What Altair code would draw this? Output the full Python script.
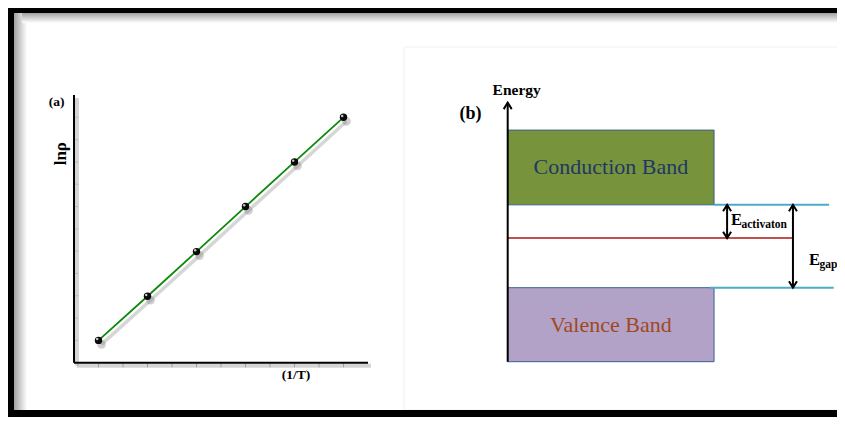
import altair as alt
import pandas as pd

# ---------------- data: panel (a)  ln(rho) versus 1/T ----------------
inv_T = [1, 2, 3, 4, 5, 6]
ln_rho = [1.0, 1.99, 2.99, 4.0, 5.0, 6.0]
a_ticks = [1, 1.5, 2, 2.5, 3, 3.5, 4, 4.5, 5, 5.5, 6]
a_min, a_max = 0.5, 6.5

# ---------------- data: panel (b)  band diagram (energy, arb. units) ----------------
band_names = ["Conduction Band", "Valence Band"]
band_low = [2.12, 0.0]
band_high = [3.13, 1.0]
band_fill = ["#77933C", "#B3A2C7"]
band_text = ["#1F3864", "#A0481E"]
level_energy = 1.67       # activation (impurity) level
energy_top = 3.5          # top of the energy arrow

# schematic horizontal layout of panel (b), in 0..1 units
BAND_R = 0.633
CB_EDGE = (0.633, 0.986)
VB_EDGE = (0.62, 1.0)
LEVEL_R = 0.872
ACT_X = 0.673
GAP_X = 0.875

W, H = 829, 409
SERIF = "Liberation Serif"

ax = alt.Scale(domain=[a_min, a_max], range=[66, 360], nice=False, zero=False)
ay = alt.Scale(domain=[a_min, a_max], range=[354.7, 87], nice=False, zero=False)
bx = alt.Scale(domain=[0, 1], range=[499.7, 825.7], nice=False, zero=False)
by = alt.Scale(domain=[0, energy_top], range=[353.7, 94.7], nice=False, zero=False)


def q(field, scale, ch=alt.X):
    return ch(field, type="quantitative", scale=scale, axis=None)


ONE = pd.DataFrame({"k": [0]})
UP = "M-1,1.6 L0,0 L1,1.6"
DOWN = "M-1,-1.6 L0,0 L1,-1.6"

layers = []

# ---- frame shadows ----
layers.append(alt.Chart(ONE).mark_rect(color=alt.Gradient(
    gradient="linear", x1=0, x2=1, y1=0, y2=0,
    stops=[alt.GradientStop(color="#a0a0a0", offset=0), alt.GradientStop(color="#ffffff", offset=1)]
)).encode(x=alt.value(6), x2=alt.value(19), y=alt.value(5), y2=alt.value(H - 7)))
layers.append(alt.Chart(ONE).mark_rect(color=alt.Gradient(
    gradient="linear", x1=0, x2=0, y1=0, y2=1,
    stops=[alt.GradientStop(color="#a0a0a0", offset=0), alt.GradientStop(color="#ffffff", offset=1)]
)).encode(x=alt.value(14), x2=alt.value(W), y=alt.value(5), y2=alt.value(15)))

# faint panel box for (b)
layers.append(alt.Chart(ONE).mark_rect(fill="white", stroke="#f0f0f0", strokeWidth=1).encode(
    x=alt.value(396), x2=alt.value(W + 5), y=alt.value(39), y2=alt.value(H - 7)))

# ---------------- panel (a) ----------------
axes_df = pd.DataFrame({"x": [a_min, a_min], "x2": [a_min, a_max],
                        "y": [a_min, a_min], "y2": [a_max, a_min]})
layers.append(alt.Chart(axes_df).mark_rule(
    color="#888", opacity=0.35, strokeWidth=4, xOffset=3, yOffset=3, x2Offset=3, y2Offset=3
).encode(x=q("x", ax), x2="x2", y=q("y", ay, alt.Y), y2="y2"))

tick_df = pd.DataFrame({"t": a_ticks, "m": [a_min] * len(a_ticks)})
layers.append(alt.Chart(tick_df).mark_tick(orient="vertical", size=5, thickness=1, color="#8a8a8a", yOffset=2)
              .encode(x=q("t", ax), y=q("m", ay, alt.Y)))
layers.append(alt.Chart(tick_df).mark_tick(orient="horizontal", size=5, thickness=1, color="#b0b0b0", xOffset=2)
              .encode(x=q("m", ax), y=q("t", ay, alt.Y)))

layers.append(alt.Chart(axes_df).mark_rule(color="black", strokeWidth=2)
              .encode(x=q("x", ax), x2="x2", y=q("y", ay, alt.Y), y2="y2"))

a_df = pd.DataFrame({"inv_T": inv_T, "ln_rho": ln_rho})
layers.append(alt.Chart(a_df).mark_line(color="#777", opacity=0.3, strokeWidth=3.5, xOffset=3, yOffset=4)
              .encode(x=q("inv_T", ax), y=q("ln_rho", ay, alt.Y)))
layers.append(alt.Chart(a_df).mark_line(color="#0B8A0B", strokeWidth=1.8)
              .encode(x=q("inv_T", ax), y=q("ln_rho", ay, alt.Y)))
layers.append(alt.Chart(a_df).mark_circle(size=75, color="#777", opacity=0.35, xOffset=3, yOffset=4)
              .encode(x=q("inv_T", ax), y=q("ln_rho", ay, alt.Y)))
layers.append(alt.Chart(a_df).mark_circle(size=55, color="#0a0a0a", opacity=1)
              .encode(x=q("inv_T", ax), y=q("ln_rho", ay, alt.Y)))
layers.append(alt.Chart(a_df).mark_circle(size=6, color="#dddddd", opacity=0.9, xOffset=-1.3, yOffset=-1.3)
              .encode(x=q("inv_T", ax), y=q("ln_rho", ay, alt.Y)))

for txt, x, y, size, angle in [("(a)", 48.7, 94, 13.5, 0), ("lnρ", 52.5, 145.7, 17, 270),
                               ("(1/T)", 288, 367, 13.5, 0)]:
    layers.append(alt.Chart(ONE).mark_text(text=txt, font=SERIF, fontWeight="bold", fontSize=size,
                                           angle=angle, align="center", baseline="middle", color="black")
                  .encode(x=alt.value(x), y=alt.value(y)))

# ---------------- panel (b) ----------------
bands = pd.DataFrame({"name": band_names, "lo": band_low, "hi": band_high,
                      "fill": band_fill, "tc": band_text,
                      "x0": [0, 0], "x1": [BAND_R, BAND_R]})
bands["mid_x"] = (bands["x0"] + bands["x1"]) / 2
bands["mid_y"] = (bands["lo"] + bands["hi"]) / 2

layers.append(alt.Chart(bands).mark_rect(stroke="#3A5F8F", strokeWidth=1).encode(
    x=q("x0", bx), x2="x1", y=q("lo", by, alt.Y), y2="hi",
    fill=alt.Fill("fill", type="nominal", scale=None)))
layers.append(alt.Chart(bands).mark_text(font=SERIF, fontSize=22, align="center", baseline="middle").encode(
    x=q("mid_x", bx), y=q("mid_y", by, alt.Y), text="name",
    color=alt.Color("tc", type="nominal", scale=None)))

edges = pd.DataFrame({"x": [CB_EDGE[0], VB_EDGE[0]], "x2": [CB_EDGE[1], VB_EDGE[1]],
                      "y": [band_low[0], band_high[1]]})
layers.append(alt.Chart(edges).mark_rule(color="#4BACC6", strokeWidth=2)
              .encode(x=q("x", bx), x2="x2", y=q("y", by, alt.Y)))

lvl = pd.DataFrame({"x": [0.0], "x2": [LEVEL_R], "y": [level_energy]})
layers.append(alt.Chart(lvl).mark_rule(color="#C0504D", strokeWidth=2)
              .encode(x=q("x", bx), x2="x2", y=q("y", by, alt.Y)))

# energy axis
eax = pd.DataFrame({"x": [0.0], "y": [band_low[1]], "y2": [energy_top]})
layers.append(alt.Chart(eax).mark_rule(color="black", strokeWidth=2)
              .encode(x=q("x", bx), y=q("y", by, alt.Y), y2="y2"))
layers.append(alt.Chart(eax).mark_point(shape=UP, size=64, filled=False, stroke="black", strokeWidth=2,
                                        opacity=1).encode(x=q("x", bx), y=q("y2", by, alt.Y)))

# double arrows: activation energy and gap
arrows = pd.DataFrame({"x": [ACT_X, GAP_X], "lo": [level_energy, band_high[1]],
                       "hi": [band_low[0], band_low[0]]})
layers.append(alt.Chart(arrows).mark_rule(color="black", strokeWidth=2)
              .encode(x=q("x", bx), y=q("lo", by, alt.Y), y2="hi"))
layers.append(alt.Chart(arrows).mark_point(shape=UP, size=64, filled=False, stroke="black", strokeWidth=2,
                                           opacity=1).encode(x=q("x", bx), y=q("hi", by, alt.Y)))
layers.append(alt.Chart(arrows).mark_point(shape=DOWN, size=64, filled=False, stroke="black", strokeWidth=2,
                                           opacity=1).encode(x=q("x", bx), y=q("lo", by, alt.Y)))

for txt, x, y, size, align, base in [("Energy", 508.7, 87, 15.5, "center", "alphabetic"),
                                     ("(b)", 462.5, 106, 18, "center", "middle"),
                                     ("E", 723, 217, 16.5, "left", "alphabetic"),
                                     ("activaton", 733.5, 220, 11.5, "left", "alphabetic"),
                                     ("E", 801, 257, 16.5, "left", "alphabetic"),
                                     ("gap", 811.5, 260, 11.5, "left", "alphabetic")]:
    layers.append(alt.Chart(ONE).mark_text(text=txt, font=SERIF, fontWeight="bold", fontSize=size,
                                           align=align, baseline=base, color="black")
                  .encode(x=alt.value(x), y=alt.value(y)))

# ---- black frame ----
for x0, x1, y0, y1 in [(0, W, 0, 5), (0, 6, 0, H), (0, W, H - 7, H)]:
    layers.append(alt.Chart(ONE).mark_rect(color="black").encode(
        x=alt.value(x0), x2=alt.value(x1), y=alt.value(y0), y2=alt.value(y1)))

chart = alt.layer(*layers).resolve_scale(x="independent", y="independent").properties(
    width=W, height=H, padding=0, background="white",
    autosize=alt.AutoSizeParams(type="none"),
).configure_view(stroke=None)

chart.save("out.html", embed_options={"renderer": "svg", "actions": False})
